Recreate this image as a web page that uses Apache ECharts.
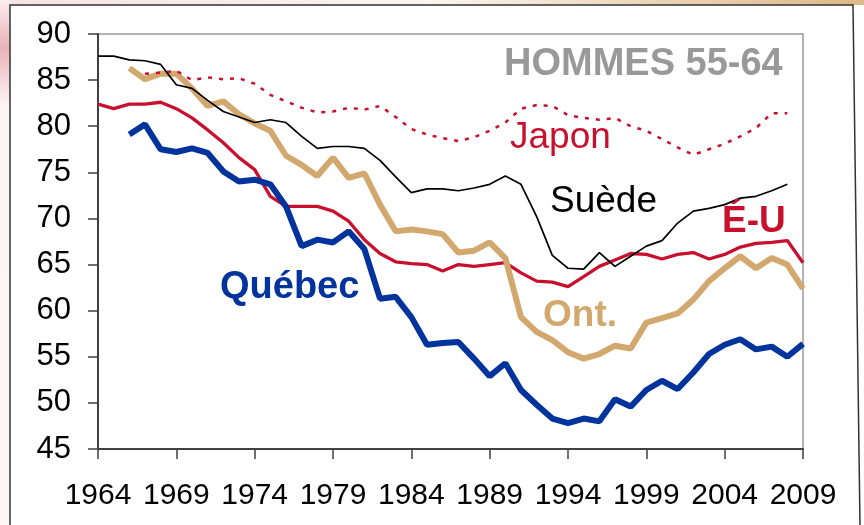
<!DOCTYPE html>
<html>
<head>
<meta charset="utf-8">
<script src="https://cdn.jsdelivr.net/npm/echarts@6/dist/echarts.min.js"></script>
<style>
  html, body { margin: 0; padding: 0; background: #fff; }
  #chart { width: 864px; height: 525px; }
</style>
</head>
<body>
<div id="chart"></div>
<script>
// years 1964..2009
const years = [];
for (let y = 1964; y <= 2009; y++) years.push(String(y));

const yTicks = [45, 50, 55, 60, 65, 70, 75, 80, 85, 90];

// taux d'activite, hommes 55-64
const suede = [87.6, 87.6, 87.2, 87.1, 86.7, 84.5, 84.1, 82.8, 81.6, 81.0,
  80.4, 80.7, 80.4, 78.9, 77.6, 77.8, 77.8, 77.6, 76.3, 74.5,
  72.8, 73.2, 73.2, 73.0, 73.3, 73.7, 74.6, 73.7, 70.2, 66.0,
  64.6, 64.5, 66.3, 64.8, 65.9, 67.0, 67.6, 69.5, 70.8, 71.1,
  71.5, 72.2, 72.4, 73.0, 73.7, null];

const japon = [null, null, null, 85.7, 85.8, 86.0, 85.0, 85.3, 85.1, 85.2,
  84.6, 83.4, 82.7, 82.0, 81.5, 81.6, 82.0, 81.8, 82.2, 81.0,
  79.7, 79.1, 78.7, 78.4, 78.8, 79.5, 80.4, 81.9, 82.3, 82.2,
  81.2, 80.9, 80.7, 80.9, 80.0, 79.5, 78.6, 77.7, 76.9, 77.5,
  78.1, 78.9, 79.8, 81.4, 81.4, null];

const eu = [82.4, 81.9, 82.4, 82.4, 82.6, 81.9, 80.9, 79.6, 78.2, 76.6,
  75.3, 72.4, 71.3, 71.3, 71.3, 70.8, 69.7, 67.7, 66.2, 65.3,
  65.1, 65.0, 64.3, 65.0, 64.8, 65.0, 65.2, 64.1, 63.2, 63.1,
  62.6, 63.7, 64.8, 65.5, 66.2, 66.1, 65.6, 66.1, 66.3, 65.6,
  66.1, 66.9, 67.3, 67.4, 67.6, 65.2];

const ontario = [null, null, 86.3, 85.1, 85.7, 85.7, 84.1, 82.2, 82.7, 81.3,
  80.3, 79.5, 76.8, 75.8, 74.6, 76.6, 74.4, 74.9, 71.5, 68.6,
  68.8, 68.6, 68.3, 66.3, 66.5, 67.4, 65.7, 59.3, 57.7, 56.8,
  55.5, 54.8, 55.3, 56.2, 55.9, 58.7, 59.2, 59.7, 61.2, 63.2,
  64.6, 65.9, 64.6, 65.7, 65.0, 62.4];

const quebec = [null, null, 79.1, 80.2, 77.5, 77.2, 77.6, 77.1, 75.1, 74.0,
  74.2, 73.7, 71.3, 67.0, 67.7, 67.4, 68.6, 66.7, 61.3, 61.5,
  59.3, 56.3, 56.5, 56.6, 54.8, 52.9, 54.3, 51.4, 49.8, 48.3,
  47.8, 48.3, 48.0, 50.4, 49.6, 51.4, 52.4, 51.5, 53.3, 55.3,
  56.3, 56.9, 55.8, 56.1, 55.0, 56.4];

const RED = '#C8102E';
const TAN = '#D3A86F';
const BLUE = '#00339C';
const FONT = '"Liberation Sans", Arial, sans-serif';

const chart = echarts.init(document.getElementById('chart'));

const option = {
  animation: false,
  backgroundColor: '#fff',
  grid: {
    left: 98, right: 61, top: 34, bottom: 76,
    show: true, borderColor: '#999', borderWidth: 1.5
  },
  xAxis: {
    type: 'category',
    data: years,
    boundaryGap: false,
    axisLine: { lineStyle: { color: '#404040', width: 2 } },
    axisTick: { interval: 4, length: 10, lineStyle: { color: '#404040', width: 1.5 } },
    axisLabel: { interval: 4, fontSize: 30, color: '#000', fontFamily: FONT, margin: 32 },
    splitLine: { show: false }
  },
  yAxis: {
    type: 'value',
    min: yTicks[0], max: yTicks[yTicks.length - 1], interval: 5,
    axisLine: { show: true, lineStyle: { color: '#404040', width: 2 } },
    axisTick: { show: true, length: 10, lineStyle: { color: '#404040', width: 1.5 } },
    axisLabel: { fontSize: 31, color: '#000', fontFamily: FONT, margin: 27 },
    splitLine: { show: false }
  },
  series: [
    { name: 'É-U', type: 'line', data: eu, showSymbol: false, z: 2,
      lineStyle: { color: RED, width: 3.3 } },
    { name: 'Ont.', type: 'line', data: ontario, showSymbol: false, z: 3,
      lineStyle: { color: TAN, width: 6 } },
    { name: 'Québec', type: 'line', data: quebec, showSymbol: false, z: 4,
      lineStyle: { color: BLUE, width: 6 } },
    { name: 'Japon', type: 'line', data: japon, showSymbol: false, z: 5,
      lineStyle: { color: RED, width: 2.5, type: [4, 7] } },
    { name: 'Suède', type: 'line', data: suede, showSymbol: false, z: 6,
      lineStyle: { color: '#000', width: 1.7 } }
  ],
  graphic: [
    { type: 'rect', left: 0, top: 0, z: -10, silent: true,
      shape: { width: 864, height: 5 },
      style: { fill: new echarts.graphic.LinearGradient(0, 0, 1, 0, [
        { offset: 0, color: '#f6e4e4' }, { offset: 0.5, color: '#fbf5ee' }, { offset: 1, color: '#dcb887' }]) } },
    { type: 'rect', left: 0, top: 0, z: -10, silent: true,
      shape: { width: 10, height: 525 },
      style: { fill: new echarts.graphic.LinearGradient(0, 0, 0, 1, [
        { offset: 0, color: '#fbeeee' }, { offset: 0.09, color: '#e9b3b8' },
        { offset: 0.2, color: '#fdf4f4' }, { offset: 1, color: '#fdf8f5' }]) } },
    { type: 'polyline', silent: true, z: 10,
      shape: { points: [[10, 525], [10, 5], [853, 5], [860, 525]] },
      style: { stroke: '#333', lineWidth: 1.5, fill: null } },
    { type: 'text', left: 504, top: 46, z: 20,
      style: { text: 'HOMMES 55-64', fill: '#999', font: 'bold 38px ' + FONT } },
    { type: 'text', left: 510, top: 119, z: 20,
      style: { text: 'Japon', fill: RED, font: '37px ' + FONT } },
    { type: 'text', left: 550, top: 183, z: 20,
      style: { text: 'Suède', fill: '#000', font: '37px ' + FONT } },
    { type: 'text', left: 722, top: 203, z: 20,
      style: { text: 'É-U', fill: RED, font: 'bold 37px ' + FONT } },
    { type: 'text', left: 543, top: 297, z: 20,
      style: { text: 'Ont.', fill: TAN, font: 'bold 37px ' + FONT } },
    { type: 'text', left: 220, top: 269, z: 20,
      style: { text: 'Québec', fill: BLUE, font: 'bold 38px ' + FONT } }
  ]
};

chart.setOption(option);
</script>
</body>
</html>
